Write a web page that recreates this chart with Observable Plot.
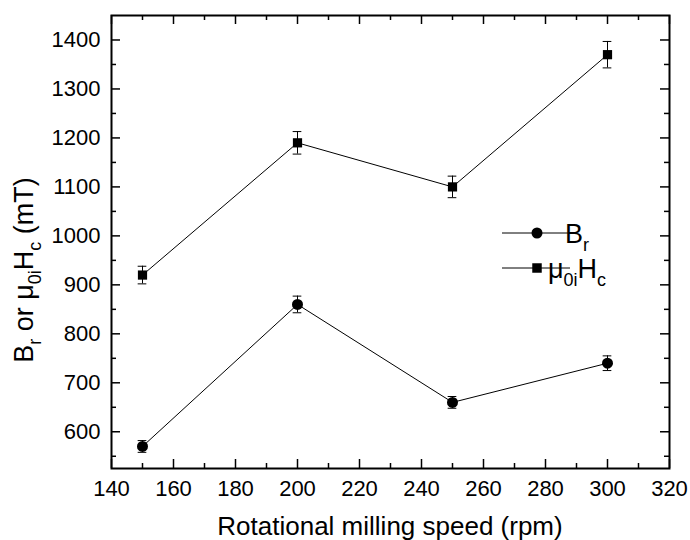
<!DOCTYPE html>
<html>
<head>
<meta charset="utf-8">
<script src="https://cdn.jsdelivr.net/npm/d3@7"></script>
<script src="https://cdn.jsdelivr.net/npm/@observablehq/plot@0.6"></script>
<style>
  html, body { margin: 0; padding: 0; background: white; }
  svg { display: block; }
</style>
</head>
<body>
<div id="chart"></div>
<script>
// ---- data ----
const speeds = [150, 200, 250, 300];
const brValues = [570, 860, 660, 740];
const brErrors = [12, 17, 12, 15];
const hcValues = [920, 1190, 1100, 1370];
const hcErrors = [18, 23, 22, 27];
const xMajorTicks = [140, 160, 180, 200, 220, 240, 260, 280, 300, 320];
const xMinorTicks = [150, 170, 190, 210, 230, 250, 270, 290, 310];
const yMajorTicks = [600, 700, 800, 900, 1000, 1100, 1200, 1300, 1400];
const yMinorTicks = [550, 650, 750, 850, 950, 1050, 1150, 1250, 1350];

const br = speeds.map((s, i) => ({x: s, y: brValues[i], e: brErrors[i]}));
const hc = speeds.map((s, i) => ({x: s, y: hcValues[i], e: hcErrors[i]}));

const W = 690, H = 540;
const mL = 111, mR = 21, mT = 15, mB = 72;
const fw = W - mL - mR, fh = H - mT - mB;
const major = 9, minor = 5;
const font = "'Liberation Sans', Arial, Helvetica, sans-serif";

function errorMarks(data, symbol, r) {
  return [
    Plot.line(data, {x: "x", y: "y", stroke: "black", strokeWidth: 1}),
    Plot.ruleX(data, {x: "x", y1: d => d.y - d.e, y2: d => d.y + d.e, stroke: "black", strokeWidth: 1}),
    Plot.ruleY(data, {y: d => d.y - d.e, x1: d => d.x - 1.4, x2: d => d.x + 1.4, stroke: "black", strokeWidth: 1}),
    Plot.ruleY(data, {y: d => d.y + d.e, x1: d => d.x - 1.4, x2: d => d.x + 1.4, stroke: "black", strokeWidth: 1}),
    Plot.dot(data, {x: "x", y: "y", symbol, r, fill: "black", stroke: "none"})
  ];
}

const svg = Plot.plot({
  width: W, height: H,
  marginLeft: mL, marginRight: mR, marginTop: mT, marginBottom: mB,
  style: {fontFamily: font, background: "white", color: "black"},
  x: {domain: [140, 320]},
  y: {domain: [525, 1450]},
  marks: [
    Plot.axisX(xMajorTicks, {tickSize: 0, tickPadding: 12, fontSize: 22, tickFormat: d => String(d), label: null}),
    Plot.axisY(yMajorTicks, {tickSize: 0, tickPadding: 11, fontSize: 22, tickFormat: d => String(d), label: null}),
    // ticks inside the frame on all four sides
    Plot.tickX(xMajorTicks, {x: d => d, insetTop: fh - major, stroke: "black", strokeWidth: 1.5}),
    Plot.tickX(xMinorTicks, {x: d => d, insetTop: fh - minor, stroke: "black", strokeWidth: 1.5}),
    Plot.tickX(xMajorTicks, {x: d => d, insetBottom: fh - major, stroke: "black", strokeWidth: 1.5}),
    Plot.tickX(xMinorTicks, {x: d => d, insetBottom: fh - minor, stroke: "black", strokeWidth: 1.5}),
    Plot.tickY(yMajorTicks, {y: d => d, insetRight: fw - major, stroke: "black", strokeWidth: 1.5}),
    Plot.tickY(yMinorTicks, {y: d => d, insetRight: fw - minor, stroke: "black", strokeWidth: 1.5}),
    Plot.tickY(yMajorTicks, {y: d => d, insetLeft: fw - major, stroke: "black", strokeWidth: 1.5}),
    Plot.tickY(yMinorTicks, {y: d => d, insetLeft: fw - minor, stroke: "black", strokeWidth: 1.5}),
    ...errorMarks(br, "circle", 5.5),
    ...errorMarks(hc, "square", 5.2),
    Plot.frame({stroke: "black", strokeWidth: 2})
  ]
});

const s = d3.select(svg);

// x axis title
s.append("text")
  .attr("x", 390).attr("y", 535)
  .attr("text-anchor", "middle")
  .attr("font-family", font).attr("font-size", 26).attr("fill", "black")
  .text("Rotational milling speed (rpm)");

// y axis title with subscripts
const yt = s.append("text")
  .attr("transform", `translate(33,270) rotate(-90)`)
  .attr("text-anchor", "middle")
  .attr("font-family", font).attr("font-size", 27).attr("fill", "black");
yt.append("tspan").text("B");
yt.append("tspan").attr("dy", 8).attr("font-size", 18).text("r");
yt.append("tspan").attr("dy", -8).text(" or μ");
yt.append("tspan").attr("dy", 8).attr("font-size", 18).text("0i");
yt.append("tspan").attr("dy", -8).text("H");
yt.append("tspan").attr("dy", 8).attr("font-size", 18).text("c");
yt.append("tspan").attr("dy", -8).text(" (mT)");

// legend
const legend = [
  {label: "B", sub: "r", symbol: d3.symbolCircle, size: Math.PI * 5.5 * 5.5, y: 233},
  {label: "μ", sub: "0i", label2: "H", sub2: "c", symbol: d3.symbolSquare, size: 90, y: 268}
];
legend.forEach(L => {
  const g = s.append("g");
  g.append("line").attr("x1", 502).attr("x2", 570).attr("y1", L.y).attr("y2", L.y)
    .attr("stroke", "black").attr("stroke-width", 1);
  g.append("path").attr("d", d3.symbol(L.symbol, L.size)()).attr("transform", `translate(537,${L.y})`)
    .attr("fill", "black");
  const t = g.append("text").attr("x", 577).attr("y", L.y + 10)
    .attr("font-family", font).attr("font-size", 27).attr("fill", "black");
  t.append("tspan").text(L.label);
  t.append("tspan").attr("dy", 8).attr("font-size", 18).text(L.sub);
  if (L.label2) {
    t.append("tspan").attr("dy", -8).text(L.label2);
    t.append("tspan").attr("dy", 8).attr("font-size", 18).text(L.sub2);
  }
});

document.getElementById("chart").appendChild(svg);
</script>
</body>
</html>
